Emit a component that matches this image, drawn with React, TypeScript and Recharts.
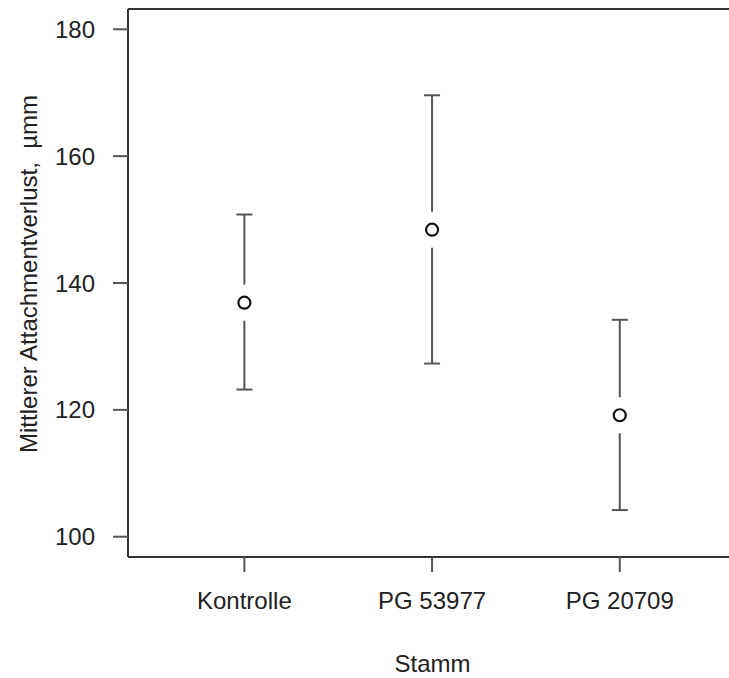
import React from "react";
import { ScatterChart, Scatter, XAxis, YAxis, ErrorBar, ReferenceLine } from "recharts";

const categories = ["Kontrolle", "PG 53977", "PG 20709"];
const means = [136.9, 148.4, 119.15];
const lower = [123.2, 127.3, 104.2];
const upper = [150.8, 169.6, 134.2];
const yTicks = [100, 120, 140, 160, 180];

const FONT = '"Liberation Sans", Arial, Helvetica, sans-serif';
const TEXT = "#222";
const LINE = "#555";
const BOX = "#333";

const data = categories.map((name, i) => ({
  pos: i + 1,
  name,
  mean: means[i],
  err: [means[i] - lower[i], upper[i] - means[i]],
}));

// open circle, with a short white gap cut out of the error bar line around it
const PointShape = (props: any) => {
  const { cx, cy } = props;
  if (cx == null || cy == null) return null;
  return (
    <g>
      <rect x={cx - 4} y={cy - 18} width={8} height={36} fill="#fff" />
      <circle cx={cx} cy={cy} r={6} fill="none" stroke="#111" strokeWidth={2.2} />
    </g>
  );
};

const YLabel = (props: any) => {
  const vb = props.viewBox || {};
  const x = (vb.x ?? 0) + 37;
  const y = (vb.y ?? 0) + (vb.height ?? 0) / 2 - 9;
  return (
    <text
      x={x}
      y={y}
      transform={`rotate(-90, ${x}, ${y})`}
      textAnchor="middle"
      fontFamily={FONT}
      fontSize={24}
      fill={TEXT}
    >
      {"Mittlerer Attachmentverlust,\u00a0 µmm"}
    </text>
  );
};

export default function App() {
  return (
    <div style={{ position: "absolute", left: 0, top: 0, background: "#fff" }}>
      <ScatterChart
        width={729}
        height={678}
        margin={{ top: 9, right: 0, bottom: 0, left: 0 }}
      >
        {/* plot runs off the right edge in the original, so the domain stops at 3.58 */}
        <XAxis
          type="number"
          dataKey="pos"
          domain={[0.38, 3.582]}
          ticks={[1, 2, 3]}
          tickFormatter={(v: number) => categories[v - 1] ?? ""}
          height={121}
          axisLine={{ stroke: BOX, strokeWidth: 2 }}
          tickSize={15}
          tickMargin={20}
          tickLine={{ stroke: LINE, strokeWidth: 2 }}
          tick={{ fill: TEXT, fontSize: 24, fontFamily: FONT }}
          allowDataOverflow
          interval={0}
          label={{
            value: "Stamm",
            position: "insideBottom",
            offset: 6,
            dx: 4,
            fill: TEXT,
            fontSize: 24,
            fontFamily: FONT,
          }}
        />
        <YAxis
          type="number"
          domain={[96.8, 183.2]}
          ticks={yTicks}
          width={128}
          axisLine={{ stroke: BOX, strokeWidth: 2 }}
          tickSize={15}
          tickMargin={18}
          tickLine={{ stroke: LINE, strokeWidth: 2 }}
          tick={{ fill: TEXT, fontSize: 24, fontFamily: FONT }}
          allowDataOverflow
          interval={0}
          label={<YLabel />}
        />
        <ReferenceLine y={183.2} stroke={BOX} strokeWidth={2} ifOverflow="visible" />
        <Scatter
          data={data}
          dataKey="mean"
          shape={PointShape}
          isAnimationActive={false}
        >
          <ErrorBar
            dataKey="err"
            direction="y"
            width={8}
            stroke={LINE}
            strokeWidth={2}
            isAnimationActive={false}
          />
        </Scatter>
      </ScatterChart>
    </div>
  );
}
